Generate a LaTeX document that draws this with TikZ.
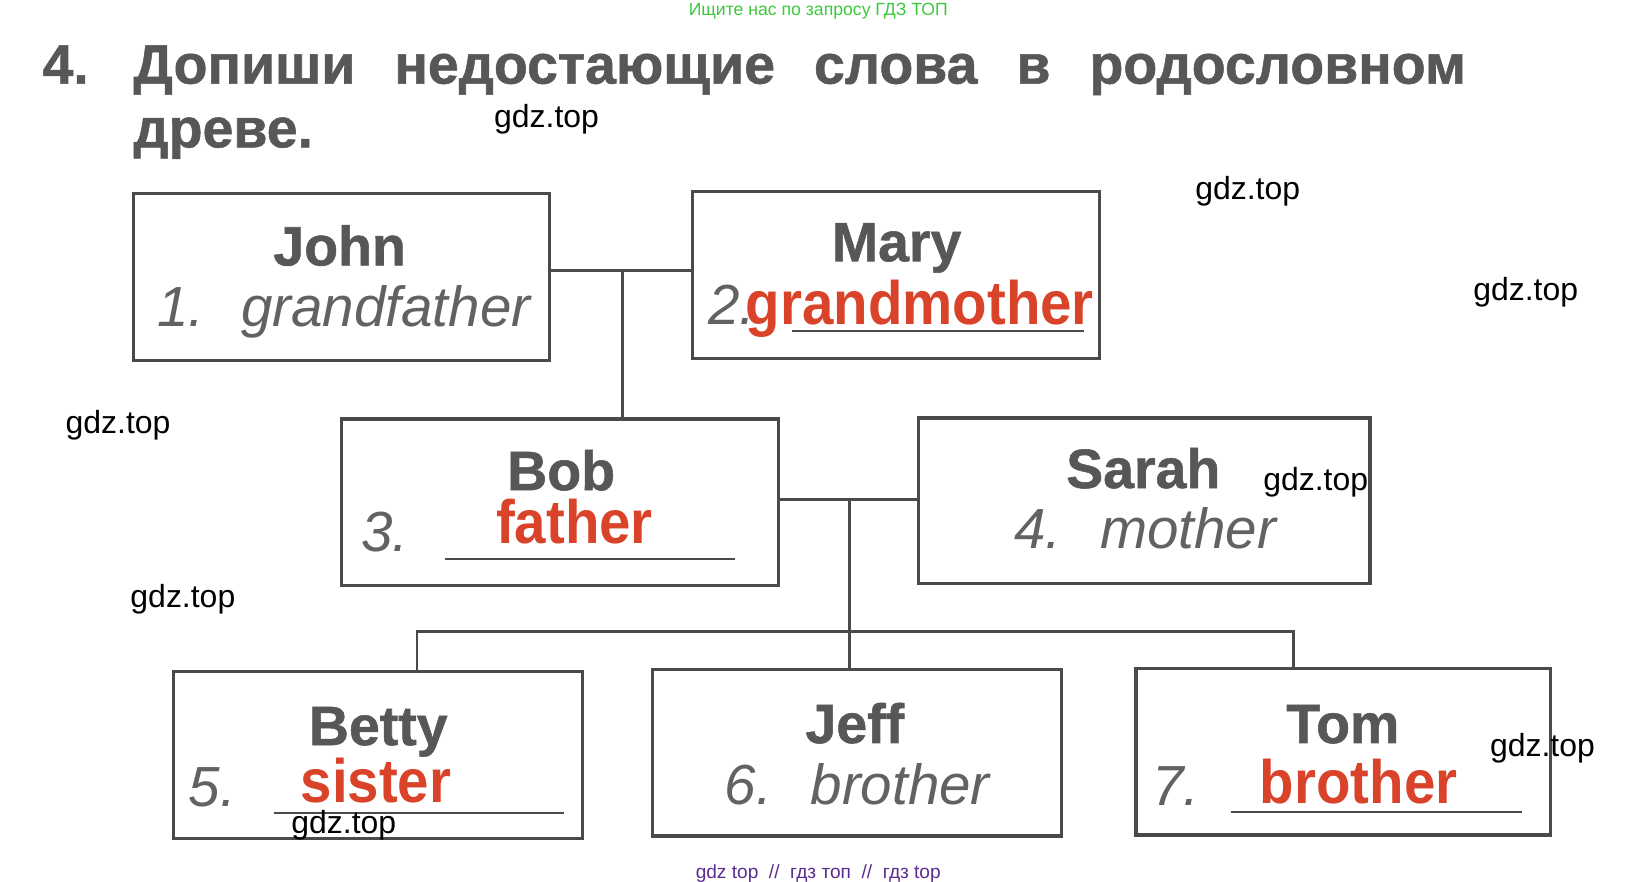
\documentclass[tikz,border=0pt]{standalone}
\usepackage{fontspec}
\setmainfont{Liberation Sans}
\newfontfamily\heavyfont[FakeBold=1]{Liberation Sans Bold}
\newfontfamily\answerfont[FakeStretch=0.92]{Liberation Sans Bold}
\definecolor{inkgray}{HTML}{575757}
\definecolor{boxgray}{HTML}{4A4A4A}
\definecolor{softgray}{HTML}{626262}
\definecolor{answerred}{HTML}{D8432A}
\definecolor{wmgreen}{HTML}{3CC83C}
\definecolor{wmpurple}{HTML}{5B2C8F}
\tikzset{
  person/.style={draw=boxgray, line width=0.85pt, inner sep=0pt},
  link/.style={draw=boxgray, line width=0.75pt},
  blank/.style={draw=boxgray, line width=0.6pt},
  headline/.style={anchor=base west, inner sep=0pt, text=inkgray,
    font=\heavyfont\fontsize{15.1}{18}\selectfont},
  kinname/.style={anchor=base, inner sep=0pt, text=inkgray,
    font=\heavyfont\fontsize{15.1}{18}\selectfont},
  given/.style={anchor=base west, inner sep=0pt, text=softgray,
    font=\itshape\fontsize{15.4}{18}\selectfont},
  answer/.style={anchor=base west, inner sep=0pt, text=answerred,
    font=\answerfont\fontsize{16.7}{20}\selectfont},
  wm/.style={inner sep=0pt, font=\fontsize{8.7}{10}\selectfont},
}
\begin{document}
\begin{tikzpicture}
    \useasboundingbox (0,0) rectangle (15.55,-8.44);

    % Cabecera
    \node[wm, text=wmgreen, font=\fontsize{4.8}{6}\selectfont] (top) at (7.83,-0.11) {Ищите нас по запросу ГДЗ ТОП};
    \node[headline] (tnum) at (0.40,-0.80) {4.};
    \node[headline] (tline) at (1.27,-0.80) {\makebox[12.75cm][s]{Допиши недостающие слова в родословном}};
    \node[headline] (tline2) at (1.27,-1.41) {древе.};

    % Abuelos
    \node[person, minimum width=3.98cm, minimum height=1.60cm] (john) at (3.27,-2.65) {};
    \node[person, minimum width=3.89cm, minimum height=1.60cm] (mary) at (8.575,-2.63) {};
    \node[kinname] (johnname) at (3.25,-2.54) {John};
    \node[given] (johnnum) at (1.50,-3.12) {1.};
    \node[given] (johnrole) at (2.30,-3.12) {grandfather};
    \node[kinname] (maryname) at (8.58,-2.50) {Mary};
    \node[given] (marynum) at (6.77,-3.11) {2.};
    \node[answer] (maryrole) at (7.13,-3.11) {grandmother};
    \draw[blank] (7.58,-3.17) -- (10.37,-3.17);

    % Padres
    \node[person, minimum width=4.18cm, minimum height=1.59cm] (bob) at (5.36,-4.805) {};
    \node[person, minimum width=4.32cm, minimum height=1.58cm] (sarah) at (10.95,-4.79) {};
    \node[kinname] (bobname) at (5.37,-4.69) {Bob};
    \node[given] (bobnum) at (3.45,-5.28) {3.};
    \node[answer] (bobrole) at (4.74,-5.20) {father};
    \draw[blank] (4.26,-5.35) -- (7.03,-5.35);
    \node[kinname] (sarahname) at (10.94,-4.67) {Sarah};
    \node[given] (sarahnum) at (9.70,-5.25) {4.};
    \node[given] (sarahrole) at (10.52,-5.25) {mother};

    % Hijos
    \node[person, minimum width=3.91cm, minimum height=1.59cm] (betty) at (3.615,-7.225) {};
    \node[person, minimum width=3.92cm, minimum height=1.59cm] (jeff) at (8.20,-7.205) {};
    \node[person, minimum width=3.97cm, minimum height=1.59cm] (tom) at (12.855,-7.195) {};
    \node[kinname] (bettyname) at (3.62,-7.13) {Betty};
    \node[given] (bettynum) at (1.80,-7.72) {5.};
    \node[answer] (bettyrole) at (2.87,-7.68) {sister};
    \draw[blank] (2.62,-7.78) -- (5.40,-7.78);
    \node[kinname] (jeffname) at (8.18,-7.11) {Jeff};
    \node[given] (jeffnum) at (6.93,-7.70) {6.};
    \node[given] (jeffrole) at (7.75,-7.70) {brother};
    \node[kinname] (tomname) at (12.85,-7.11) {Tom};
    \node[given] (tomnum) at (11.02,-7.71) {7.};
    \node[answer] (tomrole) at (12.05,-7.69) {brother};
    \draw[blank] (11.78,-7.77) -- (14.56,-7.77);

    % Lineas del arbol
    \coordinate (jm) at (5.96,-2.59);
    \coordinate (bs) at (8.13,-4.78);
    \coordinate (kidl) at (3.99,-6.04);
    \coordinate (kidr) at (12.38,-6.04);
    \draw[link] (john.east |- jm) -- (mary.west |- jm);
    \draw[link] (jm) -- (bob.north -| jm);
    \draw[link] (bob.east |- bs) -- (sarah.west |- bs);
    \draw[link] (bs) -- (jeff.north -| bs);
    \draw[link] (betty.north -| kidl) -- (kidl) -- (kidr) -- (tom.north -| kidr);

    % Marcas de agua
    \node[wm] (wm1) at (5.23,-1.14) {gdz.top};
    \node[wm] (wm2) at (11.94,-1.83) {gdz.top};
    \node[wm] (wm3) at (14.60,-2.80) {gdz.top};
    \node[wm] (wm4) at (1.13,-4.07) {gdz.top};
    \node[wm] (wm5) at (12.59,-4.61) {gdz.top};
    \node[wm] (wm6) at (1.75,-5.73) {gdz.top};
    \node[wm] (wm7) at (14.76,-7.16) {gdz.top};
    \node[wm] (wm8) at (3.29,-7.90) {gdz.top};
    \node[wm, text=wmpurple, font=\fontsize{5.2}{6}\selectfont] (bottom) at (7.83,-8.36) {gdz top~~//~~гдз топ~~//~~гдз top};
\end{tikzpicture}
\end{document}
